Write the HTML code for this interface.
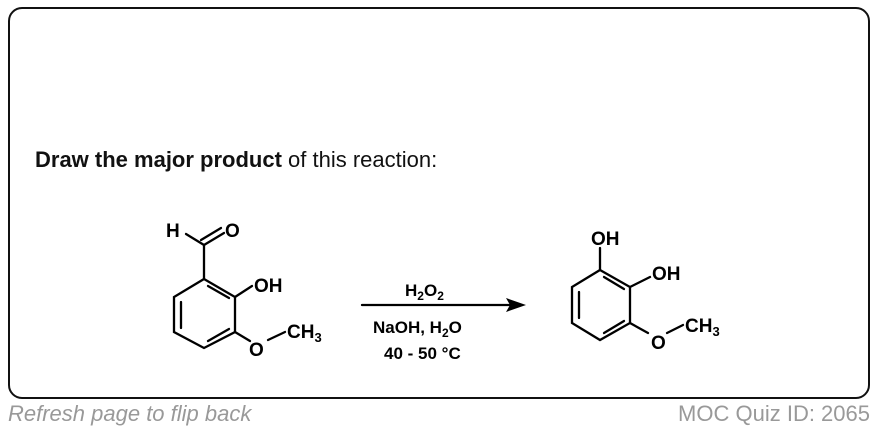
<!DOCTYPE html>
<html><head><style>
body{margin:0;width:878px;height:432px;background:#fff;overflow:hidden;font-family:"Liberation Sans",Arial,sans-serif;}
.box{position:absolute;left:8px;top:7px;width:858px;height:388px;border:2px solid #111;border-radius:14px;}
.q{position:absolute;left:35px;top:147px;font-size:22px;color:#111;}
.f{position:absolute;top:401px;font-size:22px;color:#999;}
</style></head><body>
<div class="box"></div>
<div class="q"><b>Draw the major product</b> of this reaction:</div>
<div class="f" style="left:8px;font-style:italic">Refresh page to flip back</div>
<div class="f" style="right:8px">MOC Quiz ID: 2065</div>
<svg width="878" height="432" style="position:absolute;left:0;top:0" font-family="Liberation Sans, Arial, sans-serif" font-weight="bold" font-size="19">
<g stroke="#000" stroke-width="2.3" fill="none" stroke-linecap="round">
<polygon points="204,279 235,297 235,332 204,348 174,332 174,297"/>
<line x1="181" y1="302" x2="181" y2="328"/>
<line x1="208" y1="341" x2="229" y2="329"/>
<line x1="208" y1="286" x2="229" y2="298"/>
<line x1="204" y1="279" x2="204" y2="245"/>
<line x1="204" y1="245" x2="186" y2="234"/>
<line x1="204" y1="245" x2="224" y2="233"/>
<line x1="201" y1="240" x2="221" y2="228"/>
<line x1="235" y1="297" x2="252" y2="286"/>
<line x1="235" y1="332" x2="250" y2="341"/>
<line x1="268" y1="340" x2="285" y2="332"/>
<polygon points="600,270 630,287 630,323 600,340 572,323 572,287"/>
<line x1="579" y1="292" x2="579" y2="318"/>
<line x1="604" y1="333" x2="624" y2="321"/>
<line x1="604" y1="277" x2="624" y2="289"/>
<line x1="600" y1="270" x2="600" y2="248"/>
<line x1="630" y1="287" x2="650" y2="277"/>
<line x1="630" y1="323" x2="648" y2="333"/>
<line x1="667" y1="333" x2="683" y2="325"/>
<line x1="362" y1="305" x2="512" y2="305"/>
</g>
<polygon points="526,305 506,298 510,305 506,312" fill="#000"/>
<text x="166" y="237">H</text>
<text x="225" y="237">O</text>
<text x="254" y="292">OH</text>
<text x="249" y="356">O</text>
<text x="287" y="338">CH<tspan font-size="13" dy="4">3</tspan></text>
<text x="591" y="245">OH</text>
<text x="652" y="280">OH</text>
<text x="651" y="349">O</text>
<text x="685" y="332">CH<tspan font-size="13" dy="4">3</tspan></text>
<g font-size="17">
<text x="405" y="296">H<tspan font-size="12" dy="4">2</tspan><tspan dy="-4">O</tspan><tspan font-size="12" dy="4">2</tspan></text>
<text x="373" y="333">NaOH, H<tspan font-size="12" dy="4">2</tspan><tspan dy="-4">O</tspan></text>
<text x="384" y="359">40 - 50 °C</text>
</g>
</svg>
</body></html>
